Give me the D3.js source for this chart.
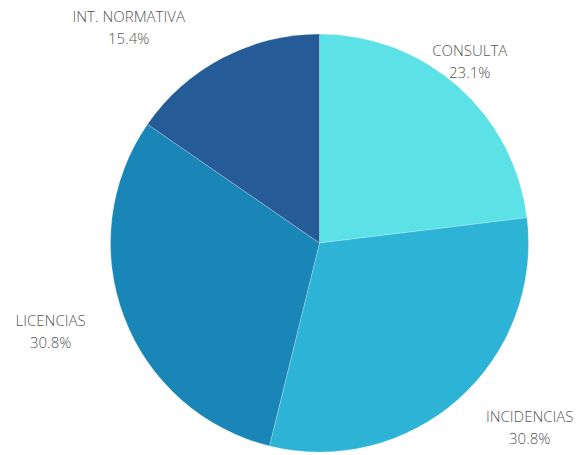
<!DOCTYPE html>
<html>
<head>
<meta charset="utf-8">
<script src="https://cdn.jsdelivr.net/npm/d3@7"></script>
<style>
  html, body { margin: 0; padding: 0; background: #fff; }
  .slice_label { font-family: "Open Sans", sans-serif; font-size: 15px; fill: #555; font-weight: 300; }
</style>
</head>
<body>
<div id="chart"></div>
<script>
const categories = ["CONSULTA", "INCIDENCIAS", "LICENCIAS", "INT. NORMATIVA"];
const values = [3, 4, 4, 2];
const sliceColors = ["#5ce1e6", "#2cb3d6", "#1a86b8", "#255b96"];

const width = 582;
const height = 455;
const center = { x: 319.5, y: 243 };
const radius = 209;

// labels sit around the pie; nudges move them clear of each other like the original
const labelNudge = {
  "CONSULTA": [-5, -6],
  "INCIDENCIAS": [55, 10],
  "LICENCIAS": [-50, 6],
  "INT. NORMATIVA": [-82, -8]
};

const svg = d3.select('#chart').append('svg')
  .attr('width', width)
  .attr('height', height);

const rows = categories.map(function (name, i) { return { name: name, value: values[i] } });
const total = d3.sum(values);

const color = d3.scaleOrdinal()
  .domain(categories)
  .range(sliceColors);

const pie = d3.pie()
  .sort(null)
  .value(function (d) { return d.value });

const arc = d3.arc()
  .innerRadius(0)
  .outerRadius(radius);

const labelArc = d3.arc()
  .innerRadius(radius * 1.12)
  .outerRadius(radius * 1.12);

const layer = svg.append('g')
  .attr('transform', 'translate(' + center.x + ',' + center.y + ')');

const arcs = pie(rows);

layer.selectAll('path')
  .data(arcs)
  .enter().append('path')
    .attr('d', arc)
    .attr('fill', function (d) { return color(d.data.name) })
    .attr('stroke', '#fff')
    .attr('stroke-opacity', 0.6)
    .attr('stroke-width', 0.4);

const labels = layer.selectAll('.slice_label')
  .data(arcs)
  .enter().append('text')
    .attr('class', 'slice_label')
    .attr('text-anchor', 'middle')
    .attr('transform', function (d) {
      const c = labelArc.centroid(d);
      const n = labelNudge[d.data.name] || [0, 0];
      return 'translate(' + (c[0] + n[0]) + ',' + (c[1] + n[1]) + ')';
    });

labels.append('tspan')
  .attr('x', 0)
  .attr('y', -6)
  .text(function (d) { return d.data.name });

labels.append('tspan')
  .attr('x', 0)
  .attr('y', 16)
  .text(function (d) { return (d.data.value / total * 100).toFixed(1) + '%' });
</script>
</body>
</html>
